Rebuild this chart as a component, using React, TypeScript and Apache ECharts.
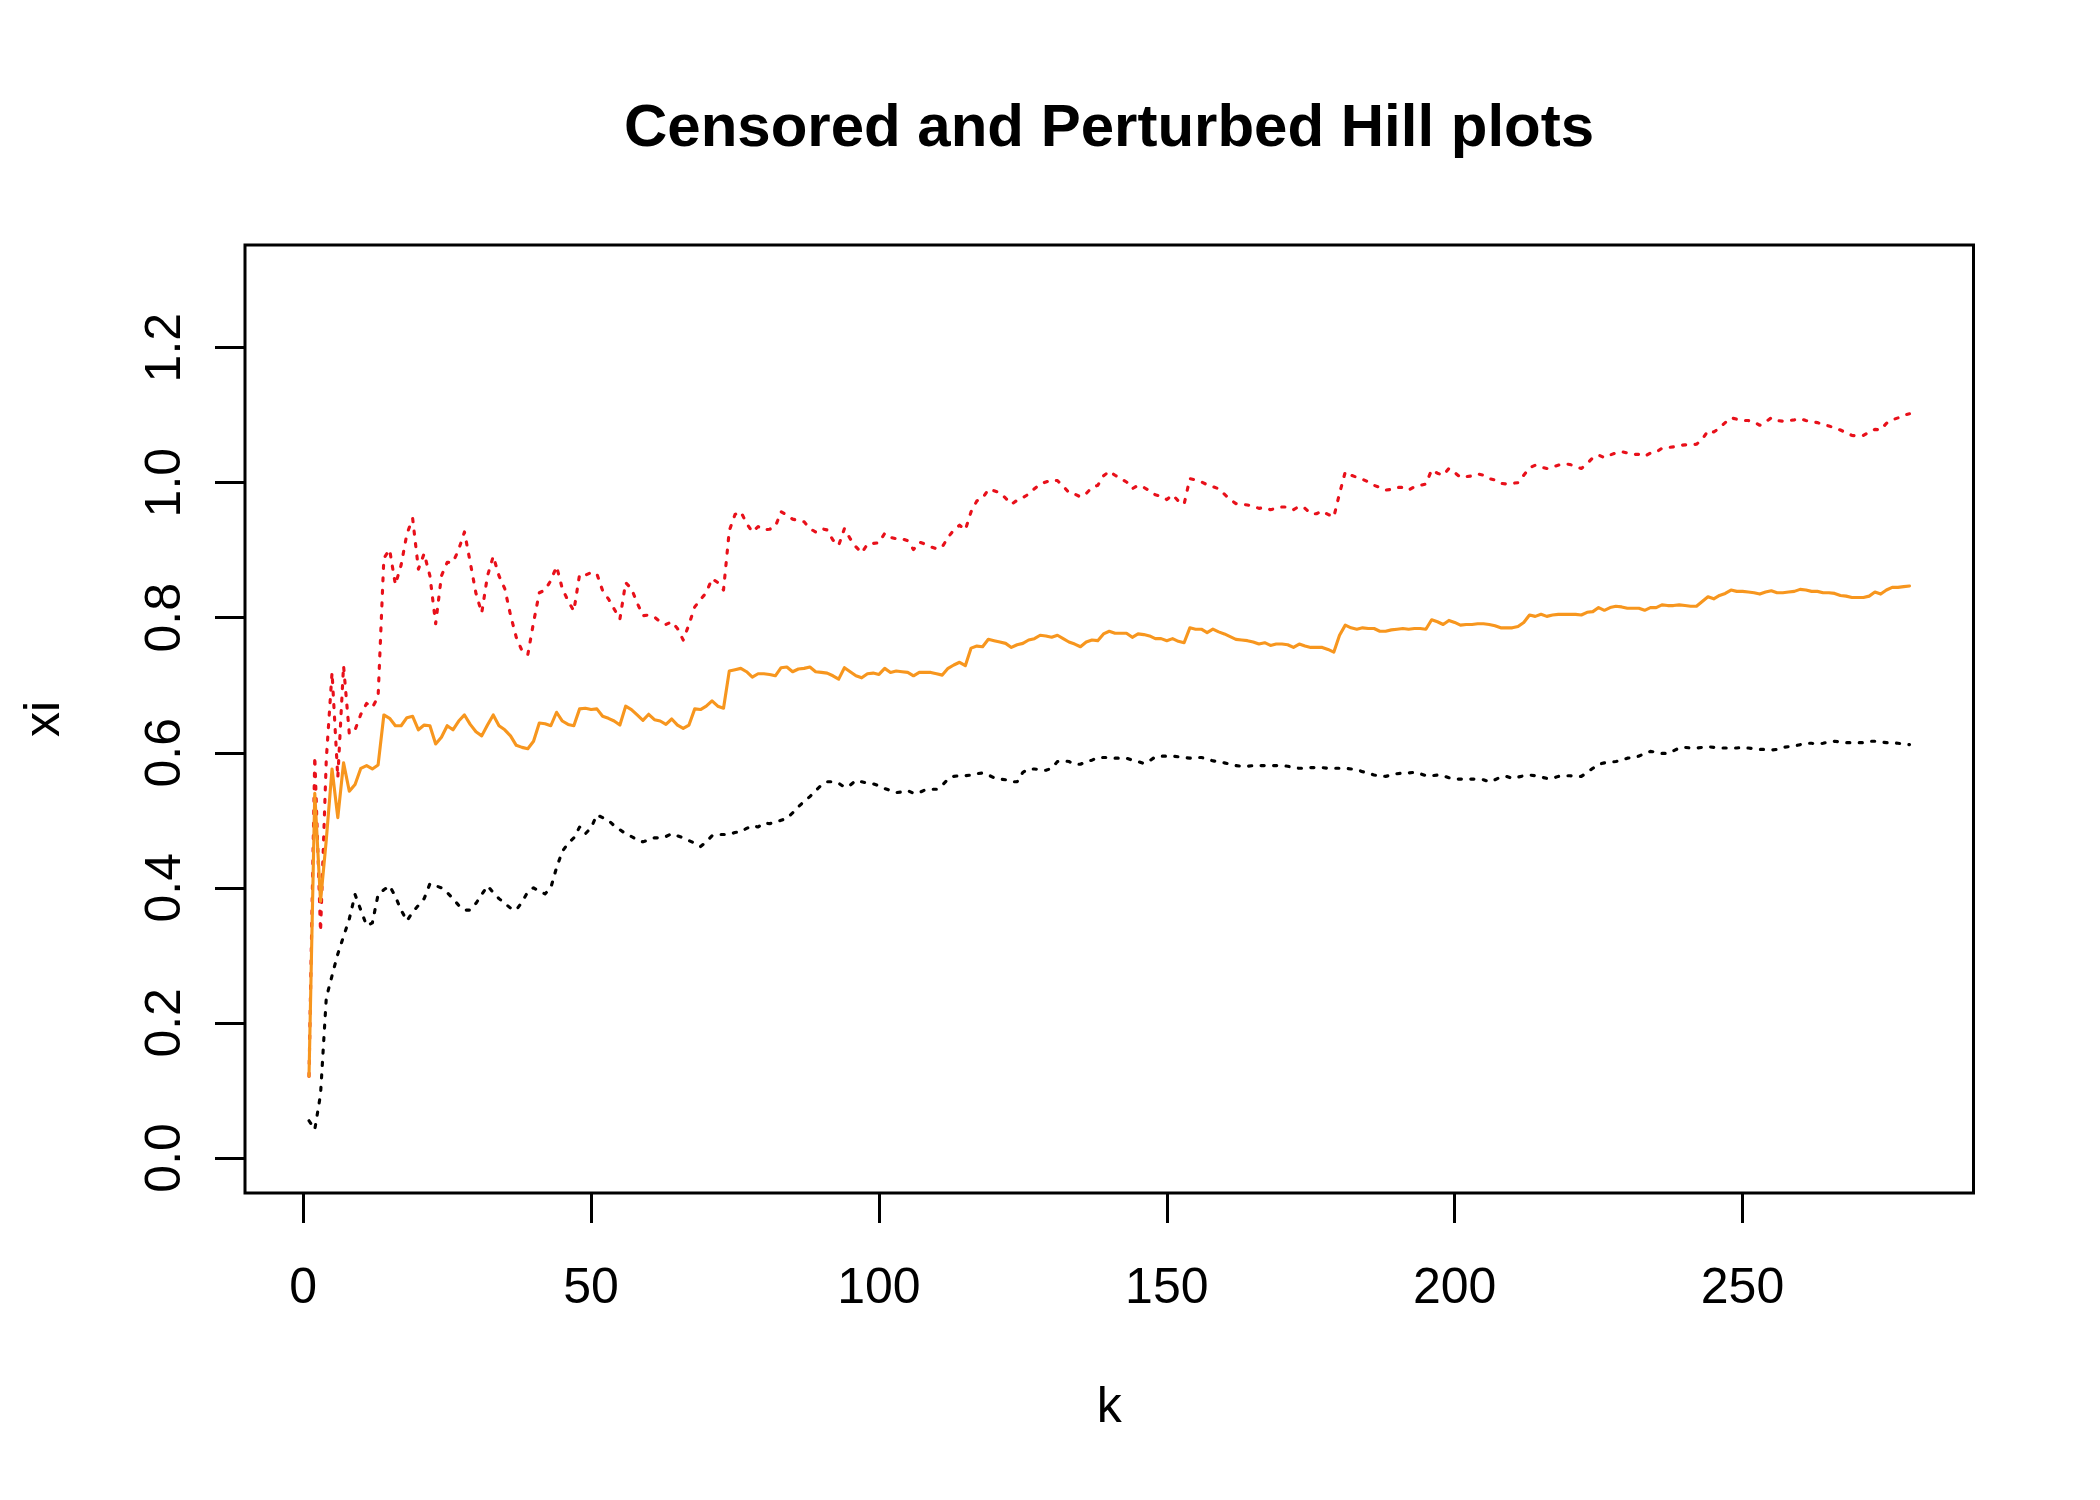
import React, { useEffect, useRef } from "react";
import * as echarts from "echarts";

const TITLE = "Censored and Perturbed Hill plots";
const X_NAME = "k";
const Y_NAME = "xi";
const X_TICKS = [0, 50, 100, 150, 200, 250];
const Y_TICKS = [0, 0.2, 0.4, 0.6, 0.8, 1.0, 1.2];

// orange solid line, k = 1..279
const hillCensored = [
  0.121, 0.540, 0.380, 0.471, 0.576, 0.504, 0.585, 0.543, 0.553, 0.577, 0.581, 0.576, 0.582,
  0.656, 0.651, 0.640, 0.640, 0.652, 0.654, 0.634, 0.641, 0.640, 0.613, 0.623, 0.640, 0.634, 0.647, 0.656, 0.642, 0.631, 0.625, 0.641, 0.656, 0.640, 0.634, 0.625, 0.611,
  0.608, 0.606, 0.617, 0.644, 0.643, 0.640, 0.660, 0.647, 0.642, 0.640, 0.665, 0.666, 0.664, 0.665, 0.654, 0.651, 0.647, 0.641, 0.669, 0.664, 0.656, 0.648, 0.657, 0.649, 0.647, 0.642, 0.650, 0.641, 0.636, 0.641, 0.665, 0.664, 0.669, 0.677, 0.669, 0.666, 0.721, 0.723,
  0.725, 0.720, 0.712, 0.717, 0.717, 0.716, 0.714, 0.726, 0.727, 0.720, 0.724, 0.725, 0.727, 0.720, 0.719, 0.718, 0.714, 0.709, 0.726, 0.720, 0.714, 0.711, 0.717, 0.718, 0.716, 0.725, 0.719, 0.721, 0.720, 0.719, 0.714, 0.719, 0.719, 0.719, 0.717, 0.715, 0.725, 0.730, 0.734, 0.729,
  0.755, 0.758, 0.757, 0.768, 0.766, 0.764, 0.762, 0.756, 0.760, 0.762, 0.767, 0.769, 0.774, 0.773, 0.771, 0.774, 0.769, 0.764, 0.761, 0.757, 0.764, 0.767, 0.766, 0.776, 0.780, 0.777, 0.777, 0.777, 0.771, 0.776, 0.775, 0.773, 0.769, 0.769, 0.766, 0.769, 0.765, 0.763,
  0.785, 0.783, 0.783, 0.778, 0.783, 0.779, 0.776, 0.772, 0.768, 0.767, 0.766, 0.764, 0.761, 0.763, 0.759, 0.761, 0.761, 0.760, 0.756, 0.761, 0.758, 0.756, 0.756, 0.756, 0.753, 0.749, 0.774, 0.789, 0.785, 0.783, 0.785, 0.784, 0.784, 0.780, 0.780, 0.782, 0.783,
  0.784, 0.783, 0.784, 0.784, 0.783, 0.797, 0.794, 0.790, 0.796, 0.793, 0.789, 0.790, 0.790, 0.791, 0.791, 0.790, 0.788, 0.785, 0.785, 0.785, 0.787, 0.793, 0.804, 0.802, 0.805, 0.802, 0.804, 0.805, 0.805, 0.805, 0.805, 0.804, 0.808, 0.809, 0.815, 0.811, 0.815, 0.817,
  0.816, 0.814, 0.814, 0.814, 0.811, 0.815, 0.815, 0.819, 0.818, 0.818, 0.819, 0.818, 0.817, 0.817, 0.824, 0.831, 0.828, 0.833, 0.836, 0.841, 0.839, 0.839, 0.838, 0.837, 0.835, 0.838, 0.840, 0.837, 0.837, 0.838, 0.839, 0.842, 0.841, 0.839, 0.839, 0.837, 0.837, 0.836, 0.833, 0.832, 0.830, 0.830, 0.830, 0.832, 0.838, 0.835, 0.841, 0.845, 0.845, 0.846, 0.847,
];

// red dotted line, k = 1..279
const hillPerturbed = [
  0.121, 0.595, 0.335, 0.590, 0.719, 0.563, 0.729, 0.628, 0.634, 0.657, 0.673, 0.667, 0.683,
  0.888, 0.901, 0.849, 0.878, 0.924, 0.947, 0.872, 0.895, 0.862, 0.791, 0.862, 0.882, 0.882, 0.901, 0.927, 0.882, 0.836, 0.807, 0.862, 0.891, 0.862, 0.843, 0.804, 0.771,
  0.751, 0.745, 0.793, 0.837, 0.841, 0.855, 0.876, 0.843, 0.825, 0.810, 0.864, 0.863, 0.867, 0.865, 0.840, 0.828, 0.813, 0.798, 0.852, 0.843, 0.822, 0.803, 0.804, 0.801, 0.794, 0.790, 0.794, 0.784, 0.767, 0.790, 0.816, 0.827, 0.837, 0.858, 0.852, 0.841, 0.929, 0.953,
  0.957, 0.940, 0.927, 0.935, 0.930, 0.931, 0.935, 0.957, 0.952, 0.946, 0.944, 0.942, 0.932, 0.927, 0.932, 0.930, 0.915, 0.907, 0.932, 0.917, 0.905, 0.896, 0.909, 0.910, 0.911, 0.925, 0.919, 0.917, 0.917, 0.914, 0.901, 0.912, 0.909, 0.905, 0.902, 0.905, 0.919, 0.930, 0.937, 0.930,
  0.957, 0.973, 0.977, 0.990, 0.988, 0.985, 0.977, 0.968, 0.974, 0.978, 0.983, 0.991, 0.998, 1.001, 1.004, 1.003, 0.995, 0.985, 0.983, 0.979, 0.984, 0.993, 0.996, 1.010, 1.017, 1.011, 1.006, 1.001, 0.991, 0.996, 0.993, 0.988, 0.982, 0.980, 0.975, 0.982, 0.973, 0.968,
  1.006, 1.004, 1.001, 0.997, 0.994, 0.991, 0.983, 0.975, 0.969, 0.968, 0.967, 0.965, 0.962, 0.963, 0.960, 0.962, 0.964, 0.964, 0.960, 0.965, 0.962, 0.954, 0.954, 0.958, 0.953, 0.949, 0.984, 1.016, 1.011, 1.008, 1.005, 1.001, 0.996, 0.993, 0.989, 0.990, 0.993,
  0.993, 0.989, 0.994, 0.996, 0.998, 1.019, 1.014, 1.011, 1.021, 1.015, 1.008, 1.009, 1.010, 1.013, 1.011, 1.006, 1.004, 0.999, 0.998, 0.999, 1.000, 1.011, 1.022, 1.026, 1.023, 1.021, 1.023, 1.026, 1.028, 1.027, 1.024, 1.021, 1.028, 1.037, 1.041, 1.037, 1.041, 1.044,
  1.046, 1.044, 1.042, 1.042, 1.039, 1.044, 1.045, 1.051, 1.052, 1.053, 1.055, 1.056, 1.056, 1.057, 1.064, 1.077, 1.075, 1.081, 1.089, 1.096, 1.094, 1.092, 1.092, 1.090, 1.085, 1.090, 1.096, 1.092, 1.091, 1.092, 1.093, 1.095, 1.092, 1.090, 1.089, 1.086, 1.084, 1.081, 1.078, 1.074, 1.070, 1.069, 1.070, 1.075, 1.079, 1.078, 1.088, 1.093, 1.096, 1.100, 1.102,
];

// black dotted line, k = 1..279
const hillClassic = [
  0.055, 0.042, 0.094, 0.237, 0.270, 0.302, 0.328, 0.354, 0.390, 0.367, 0.344, 0.348, 0.390,
  0.397, 0.403, 0.387, 0.367, 0.351, 0.364, 0.374, 0.384, 0.406, 0.403, 0.400, 0.393, 0.384, 0.374, 0.367, 0.367, 0.377, 0.390, 0.403, 0.393, 0.384, 0.377, 0.370, 0.367,
  0.379, 0.394, 0.400, 0.395, 0.391, 0.400, 0.430, 0.454, 0.466, 0.474, 0.490, 0.480, 0.489, 0.508, 0.504, 0.500, 0.492, 0.486, 0.480, 0.476, 0.471, 0.468, 0.471, 0.474, 0.474, 0.476, 0.480, 0.477, 0.474, 0.470, 0.466, 0.461, 0.468, 0.477, 0.479, 0.479, 0.479, 0.482,
  0.483, 0.488, 0.492, 0.490, 0.496, 0.495, 0.497, 0.500, 0.503, 0.511, 0.520, 0.528, 0.535, 0.544, 0.552, 0.557, 0.557, 0.555, 0.549, 0.552, 0.559, 0.557, 0.555, 0.554, 0.551, 0.547, 0.544, 0.541, 0.542, 0.544, 0.540, 0.541, 0.545, 0.546, 0.546, 0.552, 0.561, 0.565, 0.566, 0.566,
  0.567, 0.569, 0.570, 0.567, 0.563, 0.561, 0.560, 0.557, 0.557, 0.571, 0.576, 0.576, 0.575, 0.574, 0.577, 0.587, 0.588, 0.587, 0.583, 0.583, 0.587, 0.589, 0.593, 0.593, 0.593, 0.592, 0.592, 0.592, 0.589, 0.587, 0.584, 0.588, 0.594, 0.595, 0.595, 0.595, 0.594, 0.593,
  0.592, 0.593, 0.593, 0.591, 0.588, 0.587, 0.585, 0.583, 0.581, 0.580, 0.580, 0.581, 0.581, 0.581, 0.581, 0.581, 0.581, 0.580, 0.578, 0.577, 0.577, 0.578, 0.578, 0.578, 0.577, 0.577, 0.577, 0.577, 0.576, 0.575, 0.572, 0.570, 0.567, 0.566, 0.565, 0.567, 0.569,
  0.570, 0.570, 0.571, 0.569, 0.566, 0.566, 0.567, 0.566, 0.563, 0.561, 0.561, 0.561, 0.561, 0.561, 0.560, 0.557, 0.560, 0.564, 0.565, 0.562, 0.564, 0.566, 0.567, 0.566, 0.564, 0.562, 0.562, 0.565, 0.566, 0.566, 0.565, 0.565, 0.571, 0.577, 0.583, 0.585, 0.586, 0.587,
  0.589, 0.592, 0.593, 0.595, 0.599, 0.602, 0.601, 0.599, 0.599, 0.603, 0.607, 0.608, 0.607, 0.607, 0.608, 0.609, 0.608, 0.607, 0.607, 0.607, 0.607, 0.608, 0.607, 0.606, 0.605, 0.605, 0.604, 0.605, 0.608, 0.609, 0.610, 0.612, 0.614, 0.614, 0.613, 0.614, 0.616, 0.617, 0.616, 0.615, 0.615, 0.615, 0.615, 0.617, 0.617, 0.616, 0.615, 0.615, 0.614, 0.613, 0.612,
];

const kValues = hillCensored.map((_, i) => i + 1);

const FONT = "'Liberation Sans', Arial, Helvetica, sans-serif";
const LW = 3.125;

function pairs(values: number[]) {
  return values.map((v, i) => [kValues[i], v]);
}

export default function App() {
  const ref = useRef<HTMLDivElement | null>(null);

  useEffect(() => {
    if (!ref.current) return;
    const chart = echarts.init(ref.current, null, { renderer: "svg" });
    const dotted = (color: string) => ({
      color,
      width: LW,
      type: [LW, LW * 3] as any,
      cap: "round" as const,
      join: "round" as const,
    });
    chart.setOption({
      animation: false,
      backgroundColor: "#ffffff",
      title: {
        text: TITLE,
        left: 1109,
        top: 95,
        textAlign: "center",
        padding: 0,
        textStyle: { fontSize: 60, fontWeight: "bold", color: "#000", fontFamily: FONT },
      },
      grid: {
        left: 245,
        top: 245,
        right: 126.5,
        bottom: 307,
        show: true,
        borderColor: "#000",
        borderWidth: 3,
        backgroundColor: "transparent",
        containLabel: false,
        outerBoundsMode: "none",
      },
      xAxis: {
        type: "value",
        min: -10.12,
        max: 290.12,
        name: X_NAME,
        nameLocation: "middle",
        nameGap: 187,
        nameTextStyle: { fontSize: 50, color: "#000", fontFamily: FONT },
        splitLine: { show: false },
        axisLine: { show: false, onZero: false },
        axisTick: {
          show: true,
          customValues: X_TICKS,
          length: 30,
          lineStyle: { color: "#000", width: 3 },
        },
        axisLabel: {
          customValues: X_TICKS,
          fontSize: 50,
          color: "#000",
          fontFamily: FONT,
          margin: 68,
        },
      },
      yAxis: {
        type: "value",
        min: -0.052,
        max: 1.352,
        name: Y_NAME,
        nameLocation: "middle",
        nameGap: 178,
        nameRotate: 90,
        nameTextStyle: { fontSize: 50, color: "#000", fontFamily: FONT },
        splitLine: { show: false },
        axisLine: { show: false, onZero: false },
        axisTick: {
          show: true,
          customValues: Y_TICKS,
          length: 30,
          lineStyle: { color: "#000", width: 3 },
        },
        axisLabel: {
          customValues: Y_TICKS,
          rotate: 90,
          fontSize: 50,
          color: "#000",
          fontFamily: FONT,
          margin: 57,
          formatter: (v: number) => v.toFixed(1),
        },
      },
      series: [
        {
          name: "Hill",
          type: "line",
          data: pairs(hillClassic),
          showSymbol: false,
          silent: true,
          lineStyle: dotted("#000000"),
        },
        {
          name: "Perturbed",
          type: "line",
          data: pairs(hillPerturbed),
          showSymbol: false,
          silent: true,
          lineStyle: dotted("#E8101A"),
        },
        {
          name: "Censored",
          type: "line",
          data: pairs(hillCensored),
          showSymbol: false,
          silent: true,
          lineStyle: { color: "#F7961E", width: LW, cap: "round", join: "round" },
        },
      ],
    });
    return () => chart.dispose();
  }, []);

  return (
    <div
      ref={ref}
      style={{ position: "absolute", left: 0, top: 0, width: 2100, height: 1500, background: "#fff" }}
    />
  );
}
